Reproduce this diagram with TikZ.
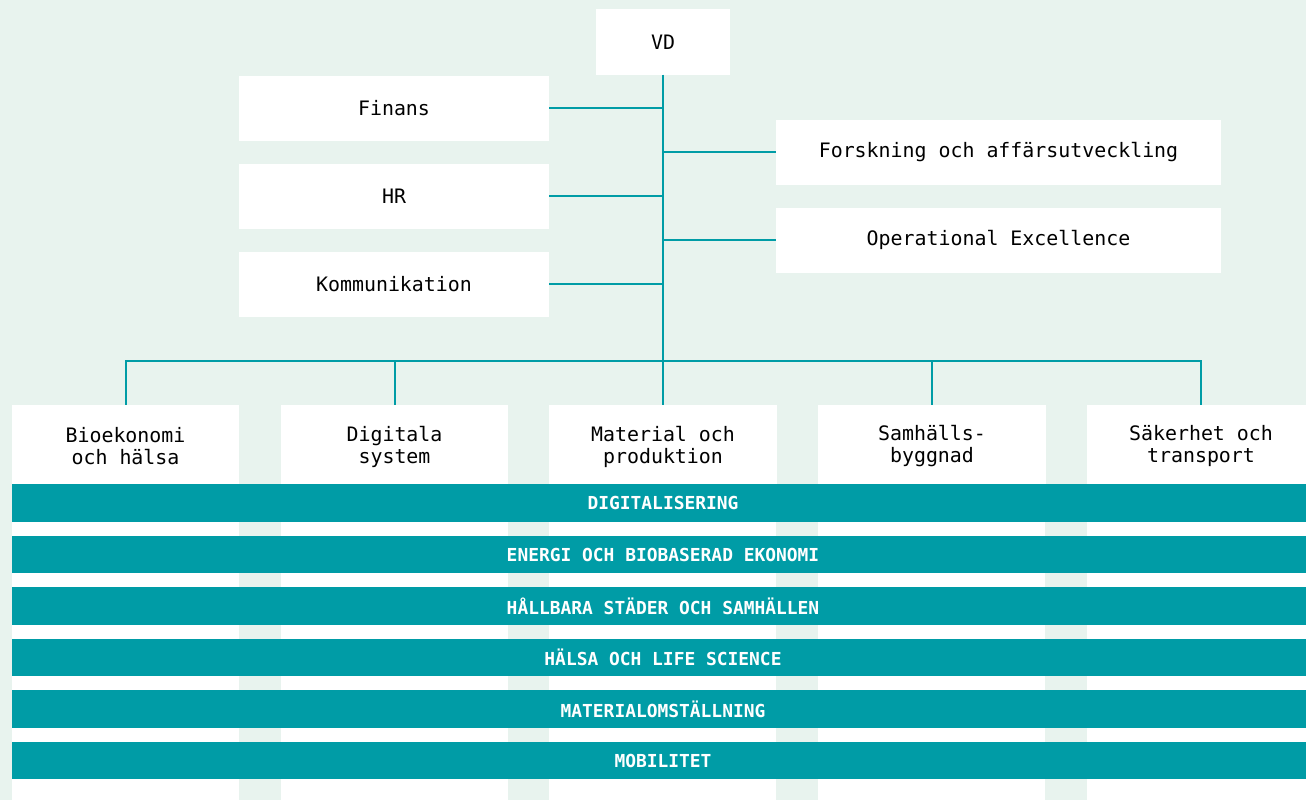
\documentclass[tikz,border=0pt]{standalone}
\usepackage{fontspec}
\newfontfamily\mono{DejaVu Sans Mono}
\definecolor{bg}{RGB}{232,243,238}
\definecolor{teal}{RGB}{0,156,166}
\begin{document}
\begin{tikzpicture}[x=1pt,y=-1pt,
  box/.style={fill=white, inner sep=0pt, font=\mono\fontsize{19.9}{22}\selectfont, align=center},
  colbox/.style={box, minimum width=227pt, minimum height=83pt},
  sidebox/.style={box, minimum width=310pt, minimum height=65pt},
  rbox/.style={box, minimum width=445pt, minimum height=65pt},
  bar/.style={fill=teal, text=white, inner sep=0pt, minimum width=1302pt, minimum height=37.5pt, font=\mono\bfseries\fontsize{17.9}{20}\selectfont},
  conn/.style={draw=teal, line width=2pt}]
\useasboundingbox (0,0) rectangle (1306,800);
\fill[bg] (0,0) rectangle (1306,800);
% column backgrounds
\foreach \x in {12,281,549,818,1087} {
  \fill[white] (\x,405) rectangle ++(227,395);
}
% top nodes
\node[box, minimum width=134pt, minimum height=65pt] (vd) at (663,42) {VD};
\node[sidebox] (fin) at (394,108) {Finans};
\node[sidebox] (hr) at (394,196) {HR};
\node[sidebox] (kom) at (394,284) {Kommunikation};
\node[rbox] (fou) at (998.5,152) {Forskning och affärsutveckling};
\node[rbox] (opx) at (998.5,240) {Operational Excellence};
% column headers
\node[colbox] (c1) at (125.5,446.5) {Bioekonomi\\och hälsa};
\node[colbox] (c2) at (394.5,446.5) {Digitala\\system};
\node[colbox] (c3) at (663,446.5) {Material och\\produktion};
\node[colbox] (c4) at (932,446.5) {Samhälls-\\byggnad};
\node[colbox] (c5) at (1201,446.5) {Säkerhet och\\transport};
\coordinate (bus) at (663,361);
% connectors
\draw[conn] (vd.south) -- (vd.south |- c3.north);
\draw[conn] (fin.east) -- (fin.east -| vd.south);
\draw[conn] (hr.east) -- (hr.east -| vd.south);
\draw[conn] (kom.east) -- (kom.east -| vd.south);
\draw[conn] (fou.west) -- (fou.west -| vd.south);
\draw[conn] (opx.west) -- (opx.west -| vd.south);
\draw[conn] (c1.north) |- (bus);
\draw[conn] (c5.north) |- (bus);
\draw[conn] (c2.north) -- (c2.north |- bus);
\draw[conn] (c4.north) -- (c4.north |- bus);
% bars
\node[bar] (b1) at (663,503) {DIGITALISERING};
\node[bar] (b2) at (663,554.5) {ENERGI OCH BIOBASERAD EKONOMI};
\node[bar] (b3) at (663,606) {HÅLLBARA STÄDER OCH SAMHÄLLEN};
\node[bar] (b4) at (663,657.5) {HÄLSA OCH LIFE SCIENCE};
\node[bar] (b5) at (663,709) {MATERIALOMSTÄLLNING};
\node[bar] (b6) at (663,760.5) {MOBILITET};
\end{tikzpicture}
\end{document}
